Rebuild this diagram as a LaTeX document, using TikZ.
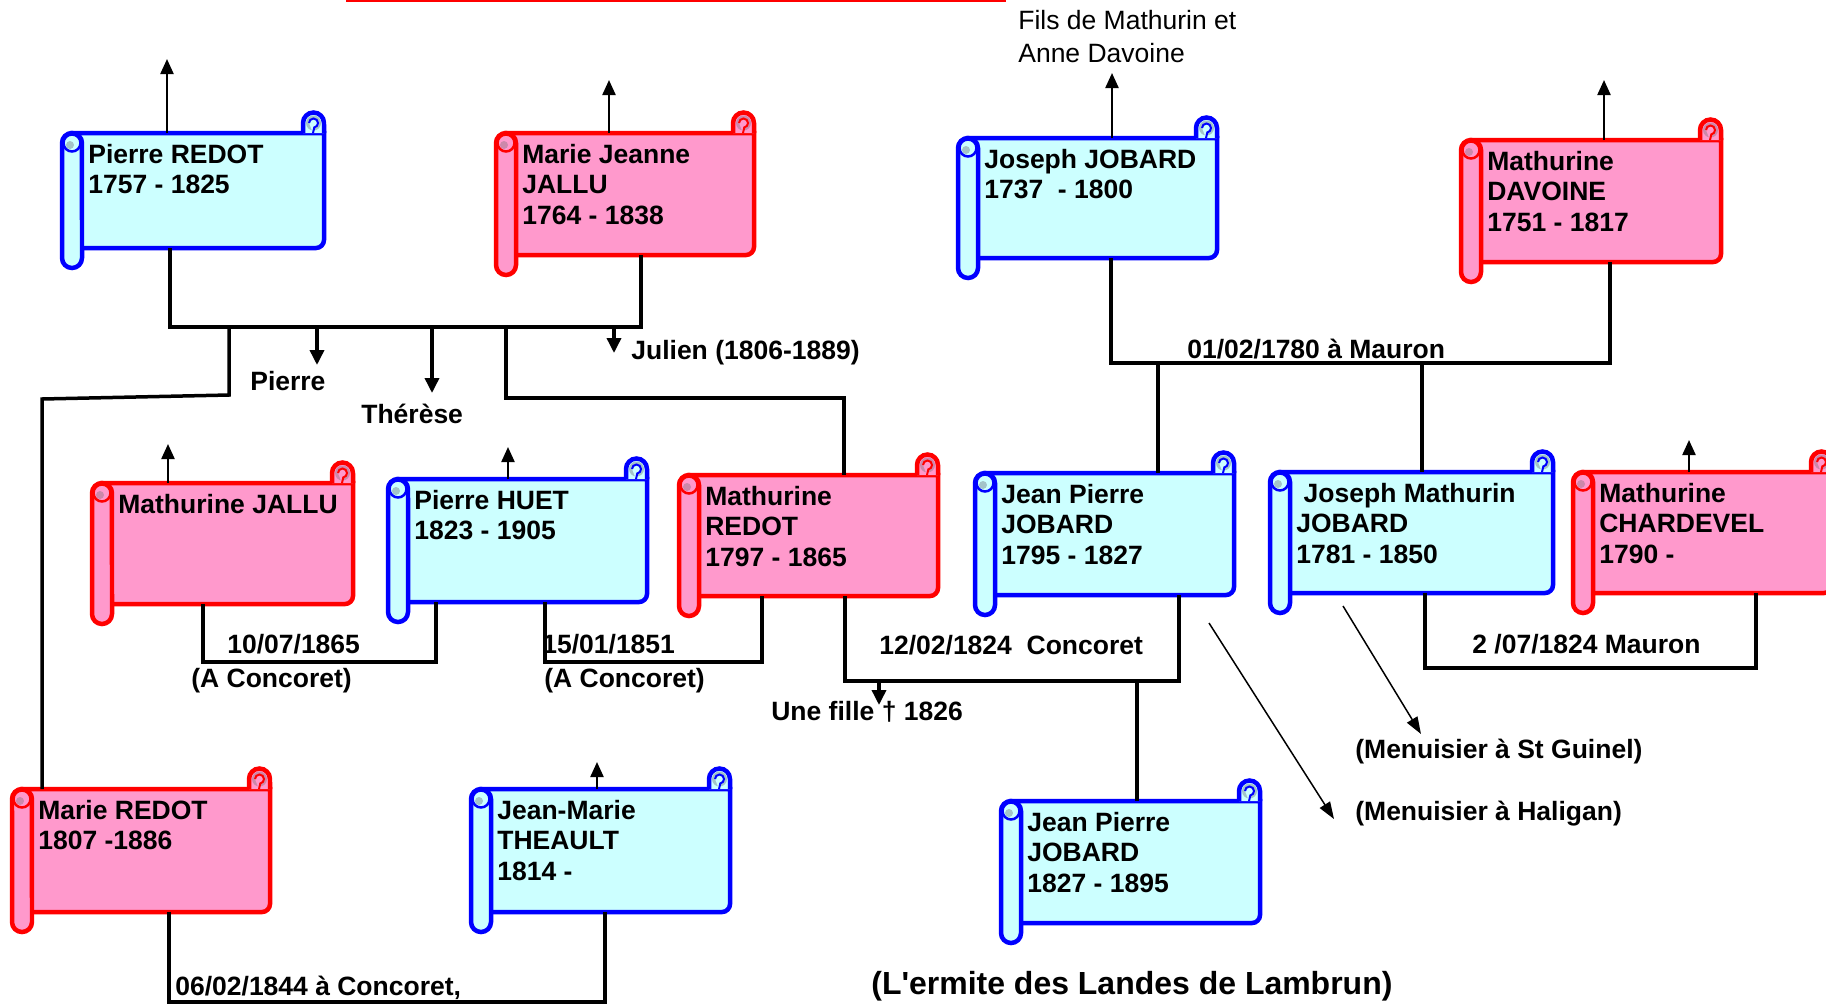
\documentclass[tikz,border=0pt]{standalone}
\usepackage{fontspec}
\setmainfont{Liberation Sans}
\usetikzlibrary{arrows.meta}
\usepackage{xcolor}

\definecolor{bleutrait}{HTML}{0000FF}
\definecolor{bleufond}{HTML}{CCFFFF}
\definecolor{bleuombre}{HTML}{A3C4C8}
\definecolor{rosetrait}{HTML}{FF0000}
\definecolor{rosefond}{HTML}{FF99CC}
\definecolor{roseombre}{HTML}{CC88AA}

% #1 nom, #2 couleur (bleu/rose), #3 x rouleau, #4 x droite, #5 y haut, #6 y bas, #7 texte
\newcommand{\parchemin}[7]{%
  % corps
  \filldraw[#2] ({#3+10},#5) -- (#4,#5) -- (#4,{#6-8}) arc[start angle=0,end angle=-90,radius=0.16cm] -- ({#3+10},#6) -- cycle;
  % boucle en haut a droite
  \filldraw[#2] ({#4-21},#5) -- ({#4-21},{#5-10}) arc[start angle=180,end angle=0,radius=0.21cm] -- (#4,#5);
  \fill[#2ombre] ({#4-10.5},{#5-10}) circle[radius=0.15cm];
  \draw[#2, line width=0.04cm] ({#4-15},{#5-10}) arc[start angle=180,end angle=-80,radius=0.09cm] -- ({#4-11},#5);
  % rouleau gauche
  \filldraw[#2] (#3,{#5+10}) arc[start angle=180,end angle=0,radius=0.2cm] -- ({#3+20},{#6+10}) arc[start angle=0,end angle=-180,radius=0.2cm] -- cycle;
  \draw[#2, line width=0.05cm] ({#3+10},{#5+10}) circle[radius=0.17cm];
  \fill[#2ombre] ({#3+8},{#5+12}) circle[radius=0.08cm];
  \node[corps, minimum width={(#4-#3-20)*0.02cm}, minimum height={(#6-#5)*0.02cm}] (#1) at ({(#3+20+#4)/2},{(#5+#6)/2}) {};
  \node[nom] (#1-t) at ({#3+26},{#5+8.65}) {\strut #7};
}

\begin{document}
\begin{tikzpicture}[x=0.02cm, y=-0.02cm,
  bleu/.style={draw=bleutrait, fill=bleufond, line width=0.09cm},
  rose/.style={draw=rosetrait, fill=rosefond, line width=0.09cm},
  corps/.style={inner sep=0, outer sep=0},
  nom/.style={anchor=north west, inner sep=0, align=left, font=\fontsize{15.08}{17.36}\selectfont\bfseries},
  txt/.style={anchor=base west, inner sep=0, font=\fontsize{15.08}{17.36}\selectfont\bfseries},
  lien/.style={line width=0.07cm},
  fleche/.style={line width=0.07cm, -{Triangle[length=0.3cm,width=0.28cm]}},
  haut/.style={line width=0.045cm, -{Triangle[length=0.3cm,width=0.26cm]}},
  fine/.style={line width=0.03cm, -{Triangle[length=0.34cm,width=0.24cm]}}]
  \useasboundingbox (0,0) rectangle (1826,1005);
  \draw[rosetrait, line width=0.05cm] (346,1) -- (1006,1);

  % Parchemins
  \parchemin{pierre}{bleu}{62}{324}{133}{248}{Pierre REDOT\\1757 - 1825}
  \parchemin{jallu}{rose}{496}{754}{133}{255}{Marie Jeanne\\JALLU\\1764 - 1838}
  \parchemin{joseph}{bleu}{958}{1217}{138}{258}{Joseph JOBARD\\1737 \ - 1800}
  \parchemin{davoine}{rose}{1461}{1721}{140}{262}{Mathurine\\DAVOINE\\1751 - 1817}
  \parchemin{mjallu}{rose}{92}{353}{483}{604}{Mathurine JALLU}
  \parchemin{huet}{bleu}{388}{647}{479}{602}{Pierre HUET\\1823 - 1905}
  \parchemin{mredot}{rose}{679}{938}{475}{596}{Mathurine\\REDOT\\1797 - 1865}
  \parchemin{jp1795}{bleu}{975}{1234}{473}{595}{Jean Pierre\\JOBARD\\1795 - 1827}
  \parchemin{jmathurin}{bleu}{1270}{1553}{472}{593}{\ Joseph Mathurin\\JOBARD\\1781 - 1850}
  \parchemin{chardevel}{rose}{1573}{1832}{472}{593}{Mathurine\\CHARDEVEL\\1790 -}
  \parchemin{marie}{rose}{12}{270}{789}{912}{Marie REDOT\\1807 -1886}
  \parchemin{theault}{bleu}{471}{730}{789}{912}{Jean-Marie\\THEAULT\\1814 -}
  \parchemin{jp1827}{bleu}{1001}{1260}{801}{923}{Jean Pierre\\JOBARD\\1827 - 1895}

  % Ascendants
  \coordinate (h-pierre) at (167,59);
  \coordinate (h-jallu) at (609,80);
  \coordinate (h-joseph) at (1112,73);
  \coordinate (h-davoine) at (1604,80);
  \coordinate (h-mjallu) at (168,444);
  \coordinate (h-huet) at (508,447);
  \coordinate (h-chardevel) at (1689,440);
  \coordinate (h-theault) at (597,762);
  \foreach \p in {pierre,jallu,joseph,davoine,mjallu,huet,chardevel,theault}
    \draw[haut] (\p.north -| h-\p) -- (h-\p);
  \node[anchor=north west, inner sep=0, align=left, font=\fontsize{15.08}{18.78}\selectfont] (l-fils) at (1018,5.9) {\strut Fils de Mathurin et\\Anne Davoine};

  % Textes
  \node[txt] (l-pierre) at (250,390) {Pierre};
  \node[txt] (l-therese) at (361,423) {Thérèse};
  \node[txt] (l-julien) at (631,359) {Julien (1806-1889)};
  \node[txt] (d-1780) at (1187,358) {01/02/1780 à Mauron};
  \node[txt] (d-1865) at (227,653) {10/07/1865};
  \node[txt] (c-1865) at (191,687) {(A Concoret)};
  \node[txt] (d-1851) at (542,653) {15/01/1851};
  \node[txt] (c-1851) at (544,687) {(A Concoret)};
  \node[txt] (d-1824a) at (879,654) {12/02/1824 \ Concoret};
  \node[txt] (l-fille) at (771,720) {Une fille † 1826};
  \node[txt] (d-1824b) at (1472,653) {2 /07/1824 Mauron};
  \node[txt] (l-guinel) at (1355,758) {(Menuisier à St Guinel)};
  \node[txt] (l-haligan) at (1355,820) {(Menuisier à Haligan)};
  \node[txt] (d-1844) at (175,995) {06/02/1844 à Concoret,};
  \node[txt, font=\fontsize{18.2}{21}\selectfont\bfseries] (l-ermite) at (871,994) {(L\textquotesingle ermite des Landes de Lambrun)};

  % Pierre REDOT x Marie Jeanne JALLU
  \coordinate (n1) at (405,327);
  \coordinate (f-pierre) at (317,365);
  \coordinate (f-therese) at (432,393);
  \coordinate (f-julien) at (614,353);
  \draw[lien] (pierre.south -| 170,0) |- (n1) -| (jallu.south -| 641,0);
  \draw[fleche] (f-pierre |- n1) -- (f-pierre);
  \draw[fleche] (f-therese |- n1) -- (f-therese);
  \draw[fleche] (f-julien |- n1) -- (f-julien);
  \draw[lien] (229,0 |- n1) -- (229,395) -- (42,399) -- (marie.north -| 42,0);
  \draw[lien] (506,0 |- n1) -- (506,398) -- (844,398) -- (mredot.north -| 844,0);

  % Mathurine JALLU x Pierre HUET
  \coordinate (n2) at (320,662);
  \draw[lien] (mjallu.south -| 203,0) |- (n2) -| (huet.south -| 436,0);

  % Pierre HUET x Mathurine REDOT
  \coordinate (n3) at (650,662);
  \draw[lien] (huet.south -| 545,0) |- (n3) -| (mredot.south -| 762,0);

  % Mathurine REDOT x Jean Pierre JOBARD
  \coordinate (n4) at (1010,681);
  \coordinate (f-fille) at (879,705);
  \draw[lien] (mredot.south -| 845,0) |- (n4) -| (jp1795.south -| 1179,0);
  \draw[fleche] (f-fille |- n4) -- (f-fille);
  \draw[lien] (1137,0 |- n4) -- (jp1827.north -| 1137,0);

  % Joseph JOBARD x Mathurine DAVOINE
  \coordinate (n5) at (1360,363);
  \draw[lien] (joseph.south -| 1111,0) |- (n5) -| (davoine.south -| 1610,0);
  \draw[lien] (1158,0 |- n5) -- (jp1795.north -| 1158,0);
  \draw[lien] (1422,0 |- n5) -- (jmathurin.north -| 1422,0);

  % Joseph Mathurin x Mathurine CHARDEVEL
  \coordinate (n6) at (1590,668);
  \draw[lien] (jmathurin.south -| 1425,0) |- (n6) -| (chardevel.south -| 1756,0);

  % Marie REDOT x Jean-Marie THEAULT
  \coordinate (n7) at (390,1002);
  \draw[lien] (marie.south -| 169,0) |- (n7) -| (theault.south -| 605,0);

  % Menuisiers
  \coordinate (a-haligan) at (1209,623);
  \coordinate (f-haligan) at (1334,819);
  \coordinate (a-guinel) at (1343,606);
  \coordinate (f-guinel) at (1421,734);
  \draw[fine] (a-haligan) -- (f-haligan);
  \draw[fine] (a-guinel) -- (f-guinel);
\end{tikzpicture}
\end{document}
